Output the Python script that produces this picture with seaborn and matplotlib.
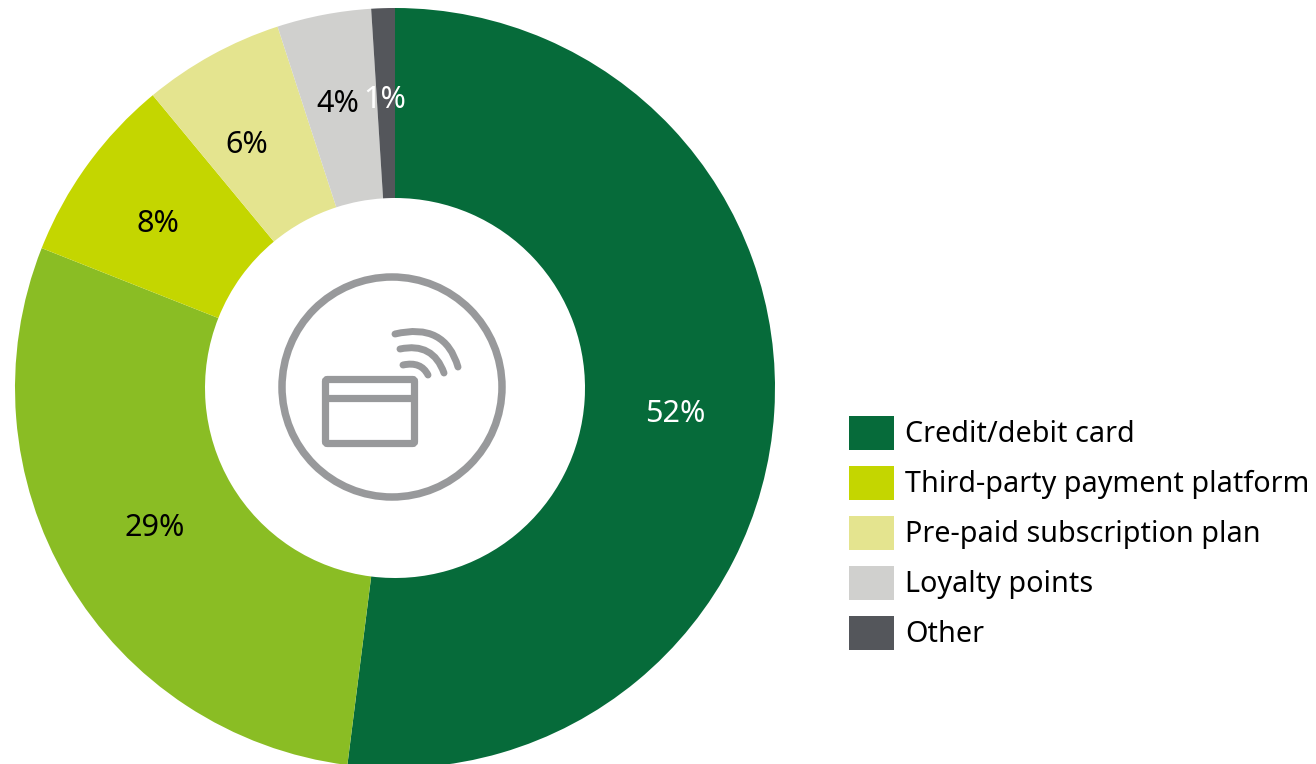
import matplotlib
matplotlib.use("Agg")
import matplotlib.pyplot as plt
from matplotlib.patches import Circle, FancyBboxPatch, PathPatch
from matplotlib.path import Path
import seaborn as sns

# Share of payment methods, clockwise from twelve o'clock
shares = [52, 29, 8, 6, 4, 1]
segment_names = ["Credit/debit card", "", "Third-party payment platform",
                 "Pre-paid subscription plan", "Loyalty points", "Other"]
segment_colors = ["#066B3A", "#8ABD24", "#C4D600", "#E4E48F", "#D0D0CE", "#54565B"]
label_colors = ["white", "black", "black", "black", "black", "white"]

W, H = 1316, 764
ICON = "#98999B"

sns.set_theme(style="white")
plt.rcParams["font.family"] = ["Noto Sans", "DejaVu Sans"]
palette = sns.color_palette(segment_colors)

fig = plt.figure(figsize=(W / 100, H / 100), dpi=100, facecolor="white")
ax = fig.add_axes([0, 0, 1, 1])


def flip(y):
    """Convert a distance from the top edge to a y data coordinate."""
    return H - y


wedges, _, autotexts = ax.pie(
    shares,
    colors=palette,
    startangle=90,
    counterclock=False,
    center=(395, flip(388)),
    radius=380,
    wedgeprops=dict(width=190, linewidth=0),
    autopct=lambda v: f"{v:.0f}%",
    textprops=dict(fontsize=22),
)
ax.set_xlim(0, W)
ax.set_ylim(0, H)
ax.set_aspect("equal")
ax.axis("off")

# Value labels are nudged by hand to keep the narrow slices readable
label_spots = [(675, 414), (155, 528), (158, 224), (247, 145), (338, 104), (385, 100)]
for text, color, (x, y) in zip(autotexts, label_colors, label_spots):
    text.set_position((x, flip(y)))
    text.set_color(color)
    text.set_ha("center")
    text.set_va("center")

# Contactless card icon in the hole of the ring
ax.add_patch(Circle((392, flip(387)), 110, fill=False, ec=ICON, lw=5.4))
ax.add_patch(FancyBboxPatch((325.5, flip(443.5)), 89, 64, boxstyle="round,pad=0,rounding_size=2",
                            fill=False, ec=ICON, lw=5.2))
ax.plot([325, 415], [flip(398), flip(398)], color=ICON, lw=5.2, solid_capstyle="butt")
arcs = [
    [(395, 334), (445, 322), (458, 367)],
    [(400, 349), (433, 342), (444, 373)],
    [(403, 365), (421, 361), (428, 375)],
]
for p0, ctrl, p1 in arcs:
    path = Path([(p0[0], flip(p0[1])), (ctrl[0], flip(ctrl[1])), (p1[0], flip(p1[1]))],
                [Path.MOVETO, Path.CURVE3, Path.CURVE3])
    ax.add_patch(PathPatch(path, fill=False, ec=ICON, lw=5, capstyle="round"))

# The 29% slice carries no name, so it stays out of the key
handles = [w for w, n in zip(wedges, segment_names) if n]
names = [n for n in segment_names if n]
ax.legend(
    handles, names,
    loc="upper left",
    bbox_to_anchor=(843.5 / W, 1 - 410 / H),
    bbox_transform=fig.transFigure,
    frameon=False,
    fontsize=20.7,
    labelcolor="black",
    handlelength=1.565,
    handleheight=1.444,
    handletextpad=0.38,
    labelspacing=0.556,
    borderpad=0.2,
    borderaxespad=0,
)

fig.savefig("out.png", dpi=100, facecolor="white")
